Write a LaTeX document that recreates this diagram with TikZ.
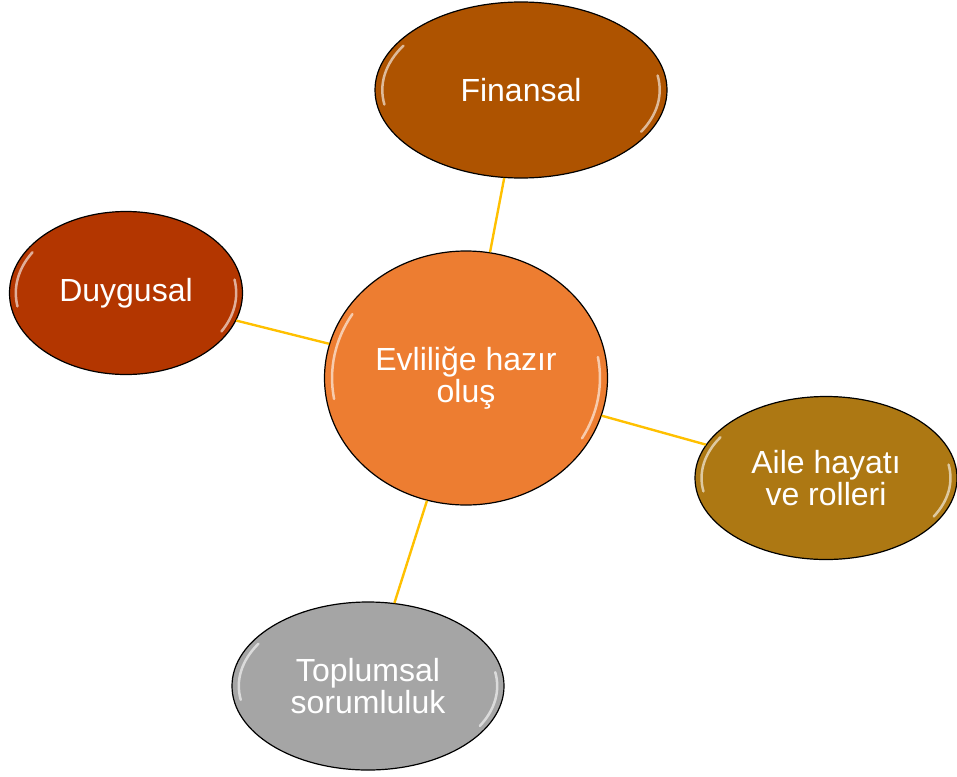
\documentclass[tikz,border=0pt]{standalone}
\usepackage{fontspec}
\setmainfont{Liberation Sans}
\usetikzlibrary{shapes.geometric}
\definecolor{centre}{HTML}{ED7D31}
\definecolor{finans}{HTML}{AE5300}
\definecolor{duygu}{HTML}{B33600}
\definecolor{aile}{HTML}{AD7813}
\definecolor{toplum}{HTML}{A5A5A5}
\definecolor{bag}{HTML}{FFC000}
\tikzset{
  bubble/.style={ellipse,draw=black,line width=1.2pt,inner sep=0pt,text=white,
    align=center,font=\fontsize{32}{32}\selectfont},
  link/.style={draw=bag,line width=2.4pt},
  gloss/.style={white,line width=2.5pt,line cap=round,opacity=0.6}
}
\begin{document}
\begin{tikzpicture}[x=1pt,y=-1pt]
\useasboundingbox (0,0) rectangle (957,776);
\node[bubble,fill=centre,minimum width=283pt,minimum height=254pt] (hazir) at (466,378) {Evliliğe hazır\\oluş};
\node[bubble,fill=finans,minimum width=292pt,minimum height=176pt] (finansal) at (521,90) {Finansal};
\node[bubble,fill=duygu,minimum width=233pt,minimum height=163pt] (duygusal) at (126,293) {Duygusal};
\node[bubble,fill=aile,minimum width=262pt,minimum height=163pt] (aile) at (826,478) {Aile hayatı\\ve rolleri};
\node[bubble,fill=toplum,minimum width=272pt,minimum height=168pt] (toplumsal) at (368,686) {Toplumsal\\sorumluluk};
% highlights
\foreach \n/\rx/\ry in {hazir/141/127,finansal/146/88,duygusal/116/81,aile/131/81,toplumsal/136/84}{
  \draw[gloss] (\n.center) ++(170:{0.95*\rx} and {0.95*\ry})
    arc[start angle=170,end angle=212,x radius=0.95*\rx,y radius=0.95*\ry];
  \draw[gloss] (\n.center) ++(-10:{0.95*\rx} and {0.95*\ry})
    arc[start angle=-10,end angle=30,x radius=0.95*\rx,y radius=0.95*\ry];
}
\draw[link] (hazir) -- (finansal);
\draw[link] (hazir) -- (duygusal);
\draw[link] (hazir) -- (aile);
\draw[link] (hazir) -- (toplumsal);
\end{tikzpicture}
\end{document}
